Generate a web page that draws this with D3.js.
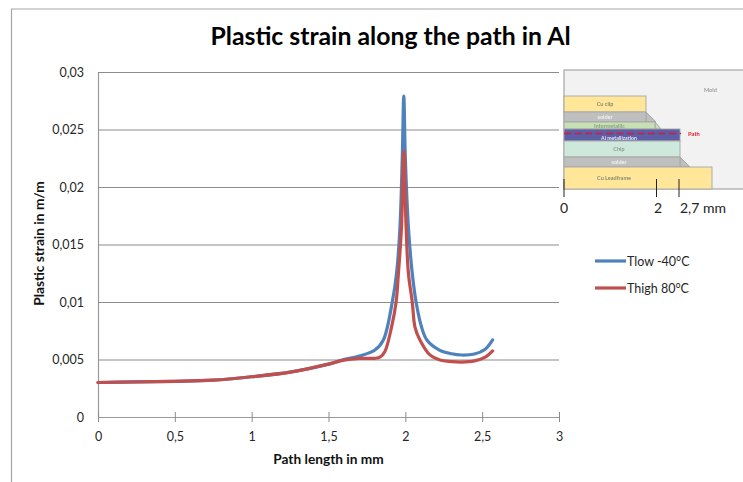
<!DOCTYPE html>
<html>
<head>
<meta charset="utf-8">
<script src="https://cdn.jsdelivr.net/npm/d3@7"></script>
<style>
html, body { margin: 0; padding: 0; background: #fff; }
svg { display: block; font-family: Lato, "Open Sans", sans-serif; }
</style>
</head>
<body>
<div id="chart"></div>
<script>
// Data
const blueX = [0, 0.25, 0.5, 0.75, 1, 1.25, 1.5, 1.6, 1.7, 1.8, 1.857, 1.915, 1.943, 1.965, 1.98, 1.99, 2.0, 2.02, 2.045, 2.07, 2.106, 2.14, 2.225, 2.3, 2.366, 2.45, 2.52, 2.568];
const blueY = [0.003, 0.00305, 0.0031, 0.0032, 0.0035, 0.0039, 0.0046, 0.005, 0.0053, 0.0058, 0.0067, 0.01, 0.0125, 0.0165, 0.0225, 0.0279, 0.0225, 0.0165, 0.0125, 0.01, 0.0078, 0.0067, 0.0058, 0.0055, 0.00539, 0.00548, 0.0059, 0.0067];
const redX = [0, 0.25, 0.5, 0.75, 1, 1.25, 1.5, 1.6, 1.7, 1.8, 1.835, 1.867, 1.91, 1.94, 1.955, 1.975, 1.99, 2.005, 2.02, 2.045, 2.063, 2.095, 2.16, 2.225, 2.3, 2.366, 2.45, 2.52, 2.568];
const redY = [0.003, 0.00305, 0.0031, 0.0032, 0.0035, 0.0039, 0.0046, 0.00495, 0.0051, 0.0051, 0.0052, 0.0057, 0.0078, 0.01, 0.0125, 0.0165, 0.0231, 0.0165, 0.0125, 0.01, 0.0078, 0.0067, 0.0054, 0.00495, 0.00482, 0.00478, 0.00488, 0.0052, 0.00574];
const xTicks = [0, 0.5, 1, 1.5, 2, 2.5, 3];
const yTicks = [0, 0.005, 0.01, 0.015, 0.02, 0.025, 0.03];
const seriesNames = ["Tlow -40°C", "Thigh 80°C"];
const seriesColors = ["#4f81bd", "#c0504d"];

const width = 743;
const height = 482;
const margin = { top: 72, right: 184, bottom: 65, left: 98 };

const svg = d3.select("#chart")
    .append("svg")
    .attr("width", width)
    .attr("height", height)
    .attr("viewBox", `0 0 ${width} ${height}`);

const xScale = d3.scaleLinear().domain([0, 3]).range([margin.left, width - margin.right]);
const yScale = d3.scaleLinear().domain([0, 0.03]).range([height - margin.bottom, margin.top]);
const comma = d => String(d).replace(".", ",");

// Outer chart frame, runs off the picture right and bottom
svg.append("path")
    .attr("d", `M11.5 ${height} V9 H${width}`)
    .attr("fill", "none")
    .attr("stroke", "#a6a6a6")
    .attr("stroke-width", 1.2);

svg.append("text")
    .attr("x", 390.5)
    .attr("y", 45)
    .attr("text-anchor", "middle")
    .attr("font-size", 24.8)
    .attr("font-weight", 700)
    .attr("fill", "#000")
    .text("Plastic strain along the path in Al");

// Grid lines and y axis
const yAxis = svg.append("g")
    .attr("transform", `translate(${margin.left}, 0)`)
    .call(d3.axisLeft(yScale)
        .tickValues(yTicks)
        .tickSize(-(width - margin.left - margin.right))
        .tickFormat(comma));
yAxis.select(".domain").attr("d", `M0.5 ${margin.top} V${height - margin.bottom}`).attr("stroke", "#9a9a9a").attr("stroke-width", 1.2);
yAxis.selectAll(".tick line").attr("stroke", "#8c8c8c").attr("stroke-width", 1.1);
yAxis.selectAll(".tick text")
    .attr("x", -14)
    .attr("font-size", 12.5)
    .attr("fill", "#262626")
    .attr("font-family", "Lato, sans-serif");

// X axis, ticks cross the line
const xAxis = svg.append("g")
    .attr("transform", `translate(0, ${height - margin.bottom})`)
    .call(d3.axisBottom(xScale)
        .tickValues(xTicks)
        .tickSize(5)
        .tickSizeOuter(0)
        .tickFormat(comma));
xAxis.select(".domain").attr("stroke", "#9a9a9a").attr("stroke-width", 1.2);
xAxis.selectAll(".tick line").attr("y1", -5).attr("stroke", "#8c8c8c");
xAxis.selectAll(".tick text")
    .attr("y", 15)
    .attr("font-size", 12.5)
    .attr("fill", "#262626")
    .attr("font-family", "Lato, sans-serif");

svg.append("text")
    .attr("x", 328.5)
    .attr("y", 464)
    .attr("text-anchor", "middle")
    .attr("font-size", 13.7)
    .attr("font-weight", 700)
    .attr("fill", "#111")
    .text("Path length in mm");

svg.append("text")
    .attr("transform", "translate(43.5, 243.5) rotate(-90)")
    .attr("text-anchor", "middle")
    .attr("font-size", 13.7)
    .attr("font-weight", 700)
    .attr("fill", "#111")
    .text("Plastic strain in m/m");

// Curves
const line = d3.line()
    .x(d => xScale(d[0]))
    .y(d => yScale(d[1]))
    .curve(d3.curveCatmullRom.alpha(0.5));

svg.append("path")
    .datum(d3.zip(blueX, blueY))
    .attr("fill", "none")
    .attr("stroke", seriesColors[0])
    .attr("stroke-width", 3.2)
    .attr("stroke-linecap", "round")
    .attr("d", line);

svg.append("path")
    .datum(d3.zip(redX, redY))
    .attr("fill", "none")
    .attr("stroke", seriesColors[1])
    .attr("stroke-width", 3.2)
    .attr("stroke-linecap", "round")
    .attr("d", line);

// Legend
const legend = svg.selectAll(".legend")
    .data(seriesNames)
    .enter()
    .append("g")
    .attr("class", "legend")
    .attr("transform", (d, i) => `translate(595, ${261 + i * 27})`);
legend.append("line")
    .attr("x2", 31)
    .attr("stroke", (d, i) => seriesColors[i])
    .attr("stroke-width", 3.2);
legend.append("text")
    .attr("x", 32)
    .attr("y", 4.5)
    .attr("font-size", 12.5)
    .attr("fill", "#262626")
    .text(d => d);

// Package cross-section inset
const defs = svg.append("defs");
defs.append("filter").attr("id", "soft")
    .append("feGaussianBlur").attr("stdDeviation", 0.45);

const inset = svg.append("g").attr("filter", "url(#soft)");
inset.append("rect").attr("x", 564).attr("y", 70).attr("width", 185).attr("height", 119)
    .attr("fill", "#f2f2f2").attr("stroke", "#a6a6a6").attr("stroke-width", 1.2);

// slanted solder and intermetallic ends
inset.append("path").attr("d", "M646 112 L656 122 H646 Z").attr("fill", "#bfbfbf").attr("stroke", "#a6a6a6");
inset.append("path").attr("d", "M655 122 L661 129 H655 Z").attr("fill", "#c6e0b4").attr("stroke", "#a6a6a6");
inset.append("path").attr("d", "M680 157 L690 167 H680 Z").attr("fill", "#bfbfbf").attr("stroke", "#a6a6a6");

const layers = [
    { name: "Cu clip", x: 564, y: 96, w: 82, h: 16, fill: "#ffe699", text: "#8a8a6a", size: 5.5 },
    { name: "solder", x: 564, y: 112, w: 82, h: 10, fill: "#bfbfbf", text: "#f2f2f2", size: 5.5 },
    { name: "Intermetallic", x: 564, y: 122, w: 91, h: 7, fill: "#c6e0b4", text: "#8fa084", size: 5.5 },
    { name: "Al metallization", x: 564, y: 129, w: 116, h: 12, fill: "#5b5ea6", text: "#e8e8f5", size: 5.2, dy: 2.5 },
    { name: "Chip", x: 564, y: 141, w: 116, h: 16, fill: "#cfe8dc", text: "#8a9a92", size: 5.5 },
    { name: "solder", x: 564, y: 157, w: 116, h: 10, fill: "#bfbfbf", text: "#f2f2f2", size: 5.5 },
    { name: "Cu Leadframe", x: 564, y: 167, w: 148, h: 22, fill: "#ffe699", text: "#8a8a6a", size: 5.5, textX: 614 }
];
inset.selectAll(".layer")
    .data(layers)
    .enter()
    .append("rect")
    .attr("x", d => d.x).attr("y", d => d.y).attr("width", d => d.w).attr("height", d => d.h)
    .attr("fill", d => d.fill)
    .attr("stroke", "#a6a6a6")
    .attr("stroke-width", 0.9);
inset.selectAll(".layer-label")
    .data(layers)
    .enter()
    .append("text")
    .attr("x", d => d.textX || d.x + Math.min(d.w, 96) / 2 + (d.w > 100 ? 7 : 0))
    .attr("y", d => d.y + d.h / 2 + 2 + (d.dy || 0))
    .attr("text-anchor", "middle")
    .attr("font-size", d => d.size)
    .attr("font-weight", 700)
    .attr("fill", d => d.text)
    .text(d => d.name);

inset.append("line").attr("x1", 564).attr("x2", 681).attr("y1", 133.5).attr("y2", 133.5)
    .attr("stroke", "#d11f3c").attr("stroke-width", 1.6).attr("stroke-dasharray", "7 3.5");
inset.append("text").attr("x", 688).attr("y", 136).attr("font-size", 5.8).attr("font-weight", 700).attr("fill", "#e8202a").text("Path");
inset.append("text").attr("x", 704).attr("y", 92).attr("font-size", 5.5).attr("font-weight", 700).attr("fill", "#9a9a9a").text("Mold");

// Scale under the inset
const pathMarks = [["0", 564, 564], ["2", 656.5, 658], ["2,7 mm", 679, 703]];
svg.selectAll(".mark")
    .data(pathMarks)
    .enter()
    .append("line")
    .attr("x1", d => d[1]).attr("x2", d => d[1])
    .attr("y1", 179).attr("y2", 197)
    .attr("stroke", "#222").attr("stroke-width", 1);
svg.selectAll(".mark-label")
    .data(pathMarks)
    .enter()
    .append("text")
    .attr("x", d => d[2])
    .attr("y", 213)
    .attr("text-anchor", "middle")
    .attr("font-size", 14)
    .attr("fill", "#222")
    .text(d => d[0]);
</script>
</body>
</html>
